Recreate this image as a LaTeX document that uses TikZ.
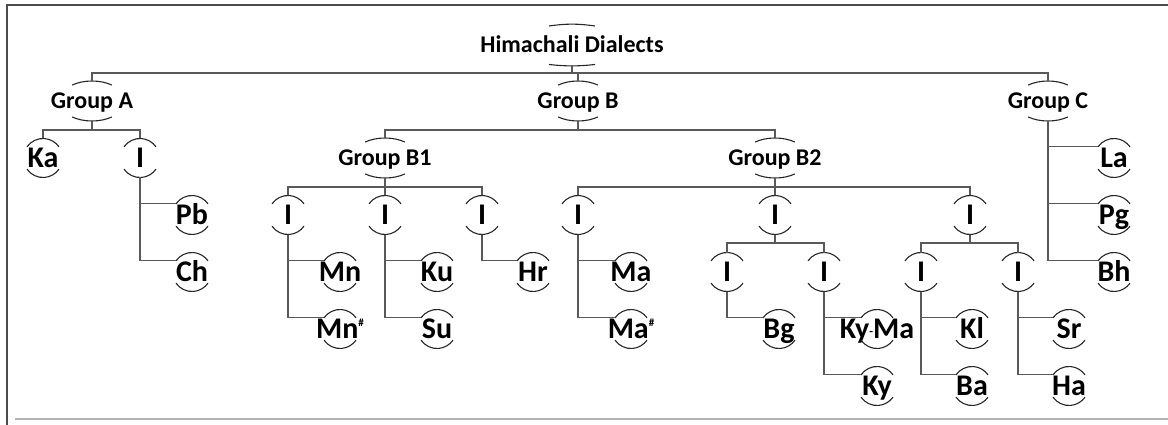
\documentclass[tikz,border=0pt]{standalone}
\usepackage{fontspec}
\setmainfont{Carlito}
\usetikzlibrary{calc}
\tikzset{
  lbl/.style={font=\bfseries\fontsize{30}{30}\selectfont, inner sep=0pt, text height=19.3pt, text depth=0pt},
  grp/.style={font=\bfseries\fontsize{24}{24}\selectfont, inner sep=0pt, text height=15.5pt, text depth=0pt},
  arcl/.style={draw=black!85, line width=1.1pt},
  conn/.style={draw=black!65, line width=1.3pt},
}
\newcommand\mkleaf[4]{%
  \node[lbl] (#1) at (#2,#3) {#4};
  \draw[arcl] ($(#1.center)+(145:19.5)$) coordinate (#1-l) arc[start angle=145,end angle=35,radius=19.5];
  \draw[arcl] ($(#1.center)+(215:19.5)$) arc[start angle=215,end angle=325,radius=19.5];
  \coordinate (#1-t) at ($(#1.center)+(0,19.5)$);
  \coordinate (#1-b) at ($(#1.center)+(0,-19.5)$);
}
\newcommand\mkgrp[4]{%
  \node[grp] (#1) at (#2,#3) {#4};
  \draw[arcl] ($(#1.center)+(127:33 and 20)$) arc[start angle=127,end angle=53,x radius=33,y radius=20];
  \draw[arcl] ($(#1.center)+(233:33 and 20)$) arc[start angle=233,end angle=307,x radius=33,y radius=20];
  \coordinate (#1-t) at ($(#1.center)+(0,20)$);
  \coordinate (#1-b) at ($(#1.center)+(0,-20)$);
}
\begin{document}
\begin{tikzpicture}[x=1pt,y=1pt]
\useasboundingbox (0,0) rectangle (1168,-425);
% frame
\draw[draw=black!70, line width=2pt] (7,-425) -- (7,-5) -- (1168,-5);
\draw[draw=black!30, line width=1.5pt] (15,-419) -- (1168,-419);

% root
\node[grp] (root) at (572,-45) {Himachali Dialects};
\draw[arcl] ($(root.center)+(-23,19)$) to[bend left=8] ($(root.center)+(23,19)$);
\draw[arcl] ($(root.center)+(-23,-19.5)$) to[bend right=6] ($(root.center)+(23,-19.5)$);
\coordinate (root-b) at ($(root.center)+(0,-20)$);

% groups
\mkgrp{A}{92}{-101}{Group A}
\mkgrp{B}{578}{-101}{Group B}
\mkgrp{C}{1048}{-101}{Group C}
\mkgrp{Bone}{385}{-158}{Group B1}
\mkgrp{Btwo}{775}{-158}{Group B2}

% nodes
\mkleaf{Ka}{43}{-158}{Ka}
\mkleaf{IA}{140}{-158}{I}
\mkleaf{Pb}{192}{-215}{Pb}
\mkleaf{Ch}{192}{-272}{Ch}
\mkleaf{La}{1114}{-158}{La}
\mkleaf{Pg}{1114}{-215}{Pg}
\mkleaf{Bh}{1114}{-272}{Bh}
\mkleaf{Ia}{288}{-215}{I}
\mkleaf{Ib}{385}{-215}{I}
\mkleaf{Ic}{482}{-215}{I}
\mkleaf{Id}{578}{-215}{I}
\mkleaf{Ie}{775}{-215}{I}
\mkleaf{If}{970}{-215}{I}
\mkleaf{Mn}{340}{-272}{Mn}
\mkleaf{Mnh}{340}{-329}{Mn\raisebox{12pt}{\fontsize{11}{11}\selectfont\#}}
\mkleaf{Ku}{437}{-272}{Ku}
\mkleaf{Su}{437}{-329}{Su}
\mkleaf{Hr}{533}{-272}{Hr}
\mkleaf{Ma}{631}{-272}{Ma}
\mkleaf{Mah}{631}{-329}{Ma\raisebox{12pt}{\fontsize{11}{11}\selectfont\#}}
\mkleaf{Ig}{727}{-272}{I}
\mkleaf{Ih}{824}{-272}{I}
\mkleaf{Ii}{921}{-272}{I}
\mkleaf{Ij}{1018}{-272}{I}
\mkleaf{Bg}{779}{-329}{Bg}
\mkleaf{KyMa}{877}{-329}{Ky\raisebox{3pt}{\fontsize{12}{12}\selectfont-}Ma}
\mkleaf{Ky}{877}{-386}{Ky}
\mkleaf{Kl}{972}{-329}{Kl}
\mkleaf{Ba}{972}{-386}{Ba}
\mkleaf{Sr}{1069}{-329}{Sr}
\mkleaf{Ha}{1069}{-386}{Ha}

% connectors
\draw[conn] (root-b) -- ++(0,-8) coordinate (root-f);
\draw[conn] (A-t) |- (root-f) -| (C-t);
\draw[conn] (B-t) -- (B-t |- root-f);

\draw[conn] (A-b) -- ++(0,-9) coordinate (A-f);
\draw[conn] (Ka-t) |- (A-f) -| (IA-t);
\draw[conn] (IA-b) |- (Pb-l);
\draw[conn] (IA-b) |- (Ch-l);

\draw[conn] (B-b) -- ++(0,-9) coordinate (B-f);
\draw[conn] (Bone-t) |- (B-f) -| (Btwo-t);

\draw[conn] (Bone-b) -- ++(0,-9) coordinate (Bone-f);
\draw[conn] (Ia-t) |- (Bone-f) -| (Ic-t);
\draw[conn] (Ib-t) -- (Ib-t |- Bone-f);

\draw[conn] (Btwo-b) -- ++(0,-9) coordinate (Btwo-f);
\draw[conn] (Id-t) |- (Btwo-f) -| (If-t);
\draw[conn] (Ie-t) -- (Ie-t |- Btwo-f);

\draw[conn] (Ia-b) |- (Mn-l);
\draw[conn] (Ia-b) |- (Mnh-l);
\draw[conn] (Ib-b) |- (Ku-l);
\draw[conn] (Ib-b) |- (Su-l);
\draw[conn] (Ic-b) |- (Hr-l);
\draw[conn] (Id-b) |- (Ma-l);
\draw[conn] (Id-b) |- (Mah-l);

\draw[conn] (Ie-b) -- ++(0,-8.5) coordinate (Ie-f);
\draw[conn] (Ig-t) |- (Ie-f) -| (Ih-t);
\draw[conn] (If-b) -- ++(0,-8.5) coordinate (If-f);
\draw[conn] (Ii-t) |- (If-f) -| (Ij-t);

\draw[conn] (Ig-b) |- (Bg-l);
\draw[conn] (Ih-b) |- (KyMa-l);
\draw[conn] (Ih-b) |- (Ky-l);
\draw[conn] (Ii-b) |- (Kl-l);
\draw[conn] (Ii-b) |- (Ba-l);
\draw[conn] (Ij-b) |- (Sr-l);
\draw[conn] (Ij-b) |- (Ha-l);

\draw[conn] (C-b) |- (La-l);
\draw[conn] (C-b) |- (Pg-l);
\draw[conn] (C-b) |- (Bh-l);
\end{tikzpicture}
\end{document}
